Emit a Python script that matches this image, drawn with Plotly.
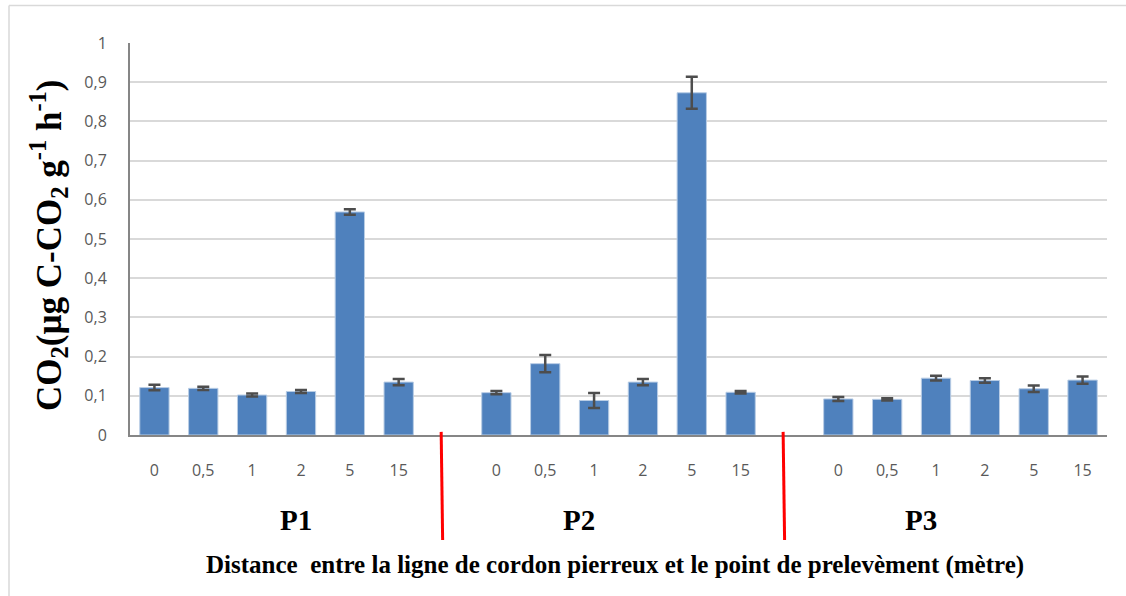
import plotly.graph_objects as go

distances = ["0", "0,5", "1", "2", "5", "15"]
groups = ["P1", "P2", "P3"]
p1_values = [0.121, 0.119, 0.102, 0.111, 0.569, 0.135]
p1_errors = [0.007, 0.004, 0.004, 0.004, 0.007, 0.008]
p2_values = [0.108, 0.182, 0.088, 0.135, 0.873, 0.109]
p2_errors = [0.004, 0.022, 0.019, 0.008, 0.041, 0.003]
p3_values = [0.092, 0.091, 0.145, 0.139, 0.118, 0.140]
p3_errors = [0.005, 0.003, 0.006, 0.006, 0.008, 0.009]
y_ticks = [0, 0.1, 0.2, 0.3, 0.4, 0.5, 0.6, 0.7, 0.8, 0.9, 1]
y_ticklabels = ["0", "0,1", "0,2", "0,3", "0,4", "0,5", "0,6", "0,7", "0,8", "0,9", "1"]

all_values = [p1_values, p2_values, p3_values]
all_errors = [p1_errors, p2_errors, p3_errors]
slot = len(distances) + 1

xs, ys, es, tickvals, ticktext = [], [], [], [], []
for g, (vals, errs) in enumerate(zip(all_values, all_errors)):
    for i, (v, e) in enumerate(zip(vals, errs)):
        xs.append(g * slot + i)
        ys.append(v)
        es.append(e)
        tickvals.append(g * slot + i)
        ticktext.append(distances[i])

fig = go.Figure()
fig.add_trace(go.Bar(
    x=xs, y=ys, width=0.6,
    marker=dict(color="#4F81BD", line=dict(color="#B9CDE5", width=1)),
    error_y=dict(type="data", array=es, visible=True, color="#4D4D4D",
                 thickness=2.5, width=6),
    showlegend=False,
))

font_times = "Liberation Serif, Times New Roman, serif"
tick_font = dict(family="Open Sans, Calibri, sans-serif", size=16, color="#595959")

fig.update_layout(
    width=1126, height=596,
    margin=dict(l=130, r=19, t=43, b=161),
    paper_bgcolor="white", plot_bgcolor="white",
    xaxis=dict(range=[-0.5, 3 * slot - 1 - 0.5], tickvals=tickvals, ticktext=ticktext,
               showgrid=False, showline=True, linecolor="#868686", linewidth=2,
               ticks="", tickfont=tick_font, ticklabelstandoff=20, zeroline=False),
    yaxis=dict(range=[0, 1], tickvals=y_ticks, ticktext=y_ticklabels,
               showgrid=True, gridcolor="#D9D9D9", gridwidth=1.5,
               showline=True, linecolor="#868686", linewidth=2,
               ticks="", tickfont=tick_font, ticklabelstandoff=18, zeroline=False),
)

# y-axis title
fig.add_annotation(x=(49 - 130) / 977, xref="paper", y=(435 - 246) / 392, yref="paper",
                   xanchor="center", yanchor="middle", textangle=-90, showarrow=False,
                   text="<b>CO<sub>2</sub>(µg C-CO<sub>2</sub> g<sup>-1</sup> h<sup>-1</sup>)</b>",
                   font=dict(family=font_times, size=35, color="black"))

# group labels
group_x = [2.9, 8.7, 15.7]
for gx, gname in zip(group_x, groups):
    fig.add_annotation(x=gx, xref="x", y=-(520 - 435) / 392, yref="paper", yanchor="middle",
                       text="<b>" + gname + "</b>",
                       showarrow=False, font=dict(family=font_times, size=29, color="black"))

fig.add_annotation(x=0.5, xref="paper", y=-(565 - 435) / 392, yref="paper", yanchor="middle",
                   text="<b>Distance  entre la ligne de cordon pierreux et le point de prelevèment (mètre)</b>",
                   showarrow=False, font=dict(family=font_times, size=25, color="black"),
                   xshift=-4)

# red separators
for g in range(1, len(groups)):
    sep = g * slot - 1 - 0.1
    fig.add_shape(type="line", xref="x", yref="paper", x0=sep - 0.03, x1=sep,
                  y0=0.008, y1=-(540 - 435) / 392, line=dict(color="#FF0000", width=3))

# outer frame (top and left)
fig.add_shape(type="line", xref="paper", yref="paper", x0=(9 - 130) / 977, x1=(1126 - 130) / 977,
              y0=(435 - 5.5) / 392, y1=(435 - 5.5) / 392, line=dict(color="#D9D9D9", width=1.5))
fig.add_shape(type="line", xref="paper", yref="paper", x0=(9 - 130) / 977, x1=(9 - 130) / 977,
              y0=(435 - 5.5) / 392, y1=(435 - 596) / 392, line=dict(color="#D9D9D9", width=1.5))

fig.write_html("out.html", config={"displayModeBar": False},
               post_script="document.body.style.margin='0';document.body.style.overflow='hidden';")
